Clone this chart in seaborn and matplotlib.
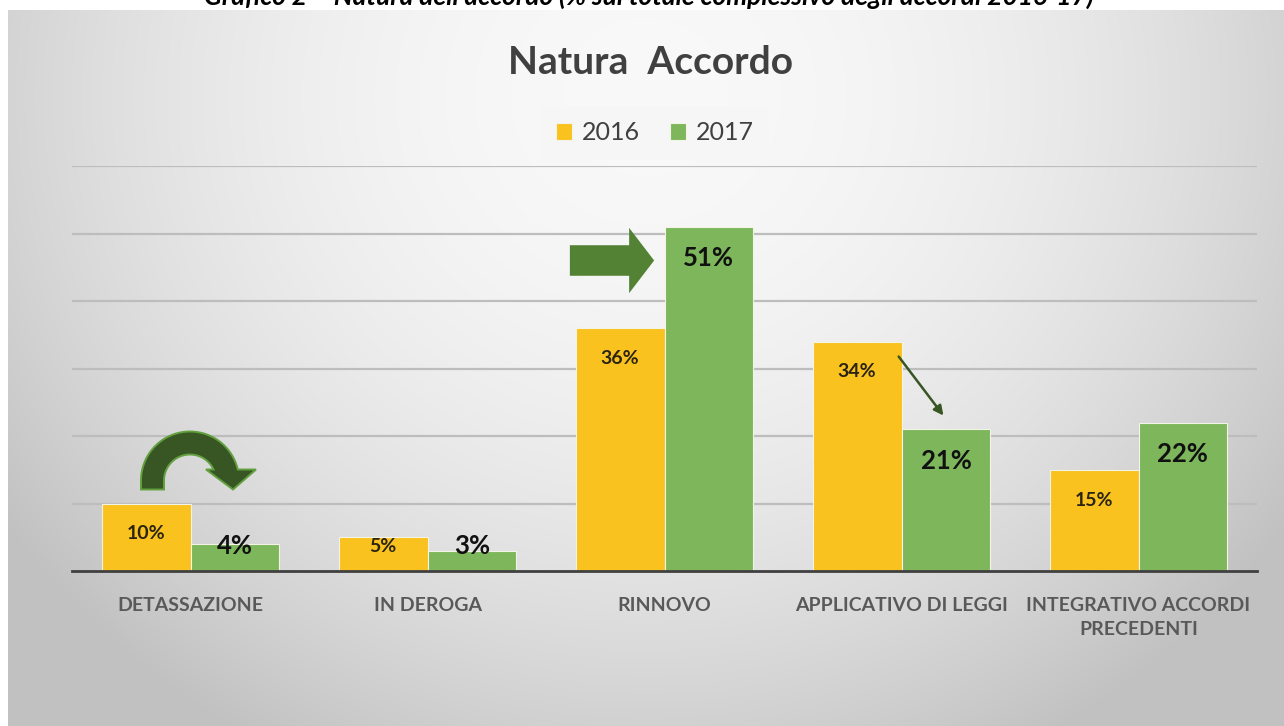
import matplotlib
matplotlib.use('Agg')
import matplotlib.pyplot as plt
import matplotlib.transforms as mtransforms
import numpy as np
import pandas as pd
import seaborn as sns
from matplotlib.patches import FancyArrowPatch, Polygon

# Data (% of all agreements)
categories = ['DETASSAZIONE', 'IN DEROGA', 'RINNOVO', 'APPLICATIVO DI LEGGI',
              'INTEGRATIVO ACCORDI\nPRECEDENTI']
years = ['2016', '2017']
values_2016 = [10, 5, 36, 34, 15]
values_2017 = [4, 3, 51, 21, 22]

df = pd.DataFrame({
    'categoria': categories * 2,
    'anno': [years[0]] * len(categories) + [years[1]] * len(categories),
    'valore': values_2016 + values_2017,
})

sns.set_theme(style='white')
plt.rcParams['font.family'] = ['Lato', 'DejaVu Sans']

W, H = 1284, 726
fig = plt.figure(figsize=(W / 100, H / 100), dpi=100)
fig.patch.set_facecolor('white')

# grey radial gradient panel behind the chart
bg = fig.add_axes([8 / W, 0, 1 - 8 / W, (H - 10) / H], zorder=-5)
yy, xx = np.mgrid[0:1:300j, 0:1:600j]
r2 = ((xx - 0.5) / 0.62) ** 2 + ((yy - 0.12) / 1.05) ** 2
shade = np.clip(0.975 - 0.22 * r2, 0.76, 0.975)
bg.imshow(np.dstack([shade] * 3), aspect='auto', extent=[0, 1, 1, 0])
bg.set_axis_off()

# cut caption at the very top
fig.text(0.505, 1 - 5 / H,
         "Grafico 2 \u2013 Natura dell\u2019accordo (% sul totale complessivo degli accordi 2016-17)",
         ha='center', va='baseline', fontsize=19, fontweight='bold', style='italic',
         color='black')

ax = fig.add_axes([72 / W, (H - 571) / H, (1257 - 72) / W, (571 - 166) / H])
ax.set_facecolor('none')

palette = {'2016': '#F9C21F', '2017': '#7DB65B'}
sns.barplot(data=df, x='categoria', y='valore', hue='anno', palette=palette,
            width=0.75, gap=0, saturation=1, edgecolor='#f3f3e6', linewidth=0.8,
            ax=ax)

ax.set_ylim(0, 60)
ax.set_xlim(-0.5, len(categories) - 0.5)
ax.set_yticks(range(10, 70, 10))
ax.yaxis.grid(True, color='#bdbdbd', linewidth=1.6)
ax.set_axisbelow(True)
ax.set_yticklabels([])
ax.tick_params(axis='y', length=0)
ax.tick_params(axis='x', length=0, pad=19)
for s in ['top', 'right', 'left']:
    ax.spines[s].set_visible(False)
ax.spines['bottom'].set_color('#404040')
ax.spines['bottom'].set_linewidth(2)
ax.set_xlabel('')
ax.set_ylabel('')
for lbl in ax.get_xticklabels():
    lbl.set_fontsize(14)
    lbl.set_fontweight('bold')
    lbl.set_color('#595959')
    lbl.set_linespacing(1.5)

# value labels inside the bars
off = 0.75 / 4
for i, (a, b) in enumerate(zip(values_2016, values_2017)):
    ya = a - 4.5 if a >= 10 else 3.7
    yb = b - 4.7 if b >= 10 else 3.7
    ax.text(i - off, ya, f'{a}%', ha='center', va='center', fontsize=14,
            fontweight='bold', color='#2b2410')
    ax.text(i + off, yb, f'{b}%', ha='center', va='center', fontsize=18.5,
            fontweight='bold', color='#111111')

# title and legend
fig.text(651 / W, 1 - 62 / H, 'Natura  Accordo', ha='center', va='center',
         fontsize=28, fontweight='bold', color='#404040')
handles, labels = ax.get_legend_handles_labels()
ax.legend(handles, labels, loc='center', bbox_to_anchor=(655 / W, 1 - 133 / H),
          bbox_transform=fig.transFigure, ncol=2, frameon=True, fontsize=18,
          handlelength=0.65, handleheight=0.65, handletextpad=0.4,
          columnspacing=1.2, labelcolor='#404040', borderpad=0.6,
          facecolor='#f6f6f6', edgecolor='none', framealpha=0.6)

# curved arch arrow over DETASSAZIONE, drawn in pixel offsets from the 2016 bar top
R_out, R_in, base = 49, 26, -11
th_out = np.linspace(np.pi, np.arcsin(-base / R_out), 40)
th_in = np.linspace(np.arcsin(-base / R_in), np.pi, 40)
outer = np.column_stack([R_out * np.cos(th_out), -R_out * np.sin(th_out)])
inner = np.column_stack([R_in * np.cos(th_in), -R_in * np.sin(th_in)])
arch = np.vstack([[(-R_out, 9)], outer, [(66, base), (43, 9), (16, base)],
                  inner, [(-R_in, 9)]])
arch_tr = mtransforms.Affine2D().scale(1, -1).translate(-0.5, 23) + \
    mtransforms.ScaledTranslation(0, values_2016[0], ax.transData)
ax.add_patch(Polygon(arch, closed=True, transform=arch_tr, facecolor='#375623',
                     edgecolor='#62a03f', linewidth=1.4, zorder=5))

# block arrow pointing at RINNOVO 2017
ax.add_patch(FancyArrowPatch((1.589, 46.0), (1.968, 46.0),
                             arrowstyle='Simple,tail_width=22,head_width=47,head_length=18',
                             facecolor='#548235', edgecolor='none', zorder=5))
# thin arrow APPLICATIVO 2016 -> 2017
ax.add_patch(FancyArrowPatch((2.981, 32.1), (3.184, 22.7),
                             arrowstyle='-|>', mutation_scale=14,
                             color='#375623', linewidth=1.8, zorder=5))

fig.savefig('out.png', dpi=100)
